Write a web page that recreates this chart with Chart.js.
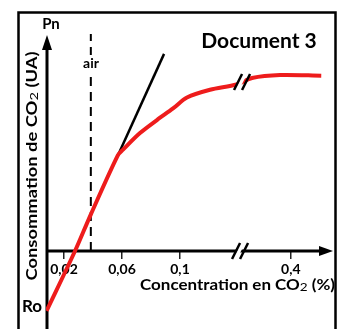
<!DOCTYPE html>
<html>
<head>
<meta charset="utf-8">
<script src="https://cdn.jsdelivr.net/npm/chart.js@4"></script>
<style>
body { margin: 0; background: #fff; }
canvas { display: block; }
</style>
</head>
<body>
<canvas id="graphique" width="338" height="329"></canvas>
<script>
// Pn en fonction de la concentration en CO2 (%)
const concentration = [0.008, 0.0276, 0.0386, 0.0572, 0.0607, 0.0724, 0.0841, 0.0952, 0.1048, 0.1207, 0.139, 0.209, 0.347, 0.55];
const pn = [-34, 0, 21, 54.5, 57.6, 67, 74.4, 81, 87.2, 91.6, 94.6, 98.3, 100, 99.6];
const tangenteX = [0.057, 0.089];
const tangenteY = [54, 112];
const airX = [0.0385, 0.0385];
const airY = [0, 124];
const ticksCO2 = [0.02, 0.06, 0.1, 0.4];
const ticksTexte = ['0,02', '0,06', '0,1', '0,4'];
const coupureCO2 = 0.15;
const coupurePn = 96;

// axe coupe : au-dela de 0,14 l'echelle est comprimee
function posAxe(c) { return c <= 0.14 ? c : 0.14 + (c - 0.14) * 0.14; }

const police = 'Lato, "Open Sans", sans-serif';

function texteAjuste(ctx, morceaux, cx, cy, largeur, angle) {
    ctx.save();
    ctx.translate(cx, cy);
    ctx.rotate(angle);
    let total = 0;
    morceaux.forEach(m => { ctx.font = m[1]; total += ctx.measureText(m[0]).width; });
    ctx.scale(largeur / total, 1);
    ctx.fillStyle = '#000';
    ctx.textBaseline = 'alphabetic';
    let x = -total / 2;
    morceaux.forEach(m => {
        ctx.font = m[1];
        ctx.fillText(m[0], x, m[2] || 0);
        x += ctx.measureText(m[0]).width;
    });
    ctx.restore();
}

function coupure(ctx, cx, cy) {
    ctx.save();
    ctx.fillStyle = '#fff';
    ctx.beginPath();
    ctx.moveTo(cx - 8, cy + 8);
    ctx.lineTo(cx, cy - 8);
    ctx.lineTo(cx + 4, cy - 8);
    ctx.lineTo(cx - 4, cy + 8);
    ctx.closePath();
    ctx.fill();
    ctx.strokeStyle = '#000';
    ctx.lineWidth = 2.5;
    ctx.beginPath();
    ctx.moveTo(cx - 9, cy + 8); ctx.lineTo(cx - 1, cy - 8);
    ctx.moveTo(cx - 1, cy + 8); ctx.lineTo(cx + 7, cy - 8);
    ctx.stroke();
    ctx.restore();
}

const decor = {
    id: 'decor',
    beforeDatasetsDraw(chart) {
        const ctx = chart.ctx;
        const x0 = chart.scales.y.getPixelForValue(0);
        ctx.save();
        ctx.strokeStyle = '#000';
        ctx.fillStyle = '#000';
        // cadre
        ctx.lineWidth = 2.5;
        ctx.strokeRect(18.5, 12.5, 317, 330);
        // axe Pn
        ctx.lineWidth = 3;
        ctx.beginPath();
        ctx.moveTo(47, 329); ctx.lineTo(47, 48);
        ctx.stroke();
        ctx.beginPath();
        ctx.moveTo(47, 35); ctx.lineTo(52, 50); ctx.lineTo(42, 50);
        ctx.closePath(); ctx.fill();
        // axe CO2
        ctx.beginPath();
        ctx.moveTo(46, x0); ctx.lineTo(322, x0);
        ctx.stroke();
        ctx.beginPath();
        ctx.moveTo(333, x0); ctx.lineTo(319, x0 - 5); ctx.lineTo(319, x0 + 5);
        ctx.closePath(); ctx.fill();
        ctx.restore();
    },
    afterDraw(chart) {
        const ctx = chart.ctx;
        const {x, y} = chart.scales;
        coupure(ctx, x.getPixelForValue(posAxe(coupureCO2)) + 1, y.getPixelForValue(0));
        coupure(ctx, x.getPixelForValue(posAxe(coupureCO2)) + 3, y.getPixelForValue(coupurePn));

        ctx.save();
        // fond blanc derriere "air"
        ctx.fillStyle = '#fff';
        ctx.fillRect(80, 55, 22, 16);
        ctx.fillStyle = '#000';
        ctx.textAlign = 'center';
        ctx.textBaseline = 'alphabetic';
        ctx.font = 'bold 15px ' + police;
        ctx.fillText('Pn', 51, 29);
        ctx.font = 'bold 14px ' + police;
        ctx.fillText('air', 91, 68);
        ctx.font = 'bold 21px ' + police;
        ctx.fillText('Document 3', 259, 48);
        ctx.font = 'bold 17px ' + police;
        ctx.fillText('Ro', 32, 312);
        ctx.restore();

        texteAjuste(ctx, [
            ['Consommation de CO', 'bold 15px ' + police],
            ['2', '12px ' + police, 1],
            [' (UA)', 'bold 15px ' + police]
        ], 36.5, 166, 229, -Math.PI / 2);
        texteAjuste(ctx, [
            ['Concentration en CO', 'bold 15px ' + police],
            ['2', '12px ' + police, 1],
            [' (%)', 'bold 15px ' + police]
        ], 237.5, 290, 195, 0);
    }
};

const ctx = document.getElementById('graphique').getContext('2d');
const graphique = new Chart(ctx, {
    type: 'line',
    data: {
        datasets: [
            {
                data: concentration.map((c, i) => ({x: posAxe(c), y: pn[i]})),
                borderColor: '#ee1c1c',
                borderWidth: 4,
                tension: 0.3,
                pointRadius: 0
            },
            {
                data: tangenteX.map((c, i) => ({x: c, y: tangenteY[i]})),
                borderColor: '#000',
                borderWidth: 2.5,
                pointRadius: 0
            },
            {
                data: airX.map((c, i) => ({x: c, y: airY[i]})),
                borderColor: '#000',
                borderWidth: 2,
                borderDash: [9, 6],
                pointRadius: 0
            }
        ]
    },
    options: {
        responsive: false,
        animation: false,
        layout: {
            padding: {left: 46, right: 5, top: 34, bottom: 0}
        },
        plugins: {
            legend: {display: false},
            tooltip: {enabled: false}
        },
        scales: {
            x: {
                type: 'linear',
                position: {y: 0},
                min: 0.00759,
                max: 0.2055,
                border: {display: false},
                grid: {
                    drawOnChartArea: false,
                    drawTicks: true,
                    tickLength: 8,
                    color: '#222',
                    lineWidth: 1.5
                },
                afterBuildTicks: scale => {
                    scale.ticks = ticksCO2.map(v => ({value: posAxe(v)}));
                },
                ticks: {
                    autoSkip: false,
                    maxRotation: 0,
                    padding: 2,
                    color: '#000',
                    font: {family: police, size: 14, weight: 'bold'},
                    callback: (v, i) => ticksTexte[i]
                }
            },
            y: {
                type: 'linear',
                display: false,
                min: -44.3,
                max: 123.3
            }
        }
    },
    plugins: [decor]
});
</script>
</body>
</html>
